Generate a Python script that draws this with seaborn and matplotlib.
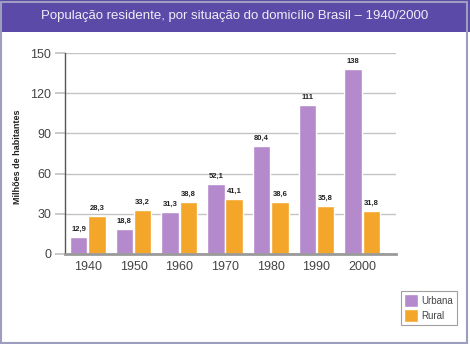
import matplotlib
matplotlib.use("Agg")
import matplotlib.pyplot as plt
import seaborn as sns
import pandas as pd
from matplotlib.patches import Rectangle

anos = ["1940", "1950", "1960", "1970", "1980", "1990", "2000"]
urbana = [12.9, 18.8, 31.3, 52.1, 80.4, 111, 138]
rural = [28.3, 33.2, 38.8, 41.1, 38.6, 35.8, 31.8]
rotulos_urbana = ["12,9", "18,8", "31,3", "52,1", "80,4", "111", "138"]
rotulos_rural = ["28,3", "33,2", "38,8", "41,1", "38,6", "35,8", "31,8"]
series = ["Urbana", "Rural"]
yticks = [0, 30, 60, 90, 120, 150]
titulo = "População residente, por situação do domicílio Brasil – 1940/2000"
ylabel = "Milhões de habitantes"

df = pd.DataFrame({
    "Ano": anos * 2,
    "Valor": urbana + rural,
    "Situação": [series[0]] * len(anos) + [series[1]] * len(anos),
})

sns.set_theme(style="white")
plt.rcParams["font.family"] = ["Liberation Sans", "DejaVu Sans"]

fig = plt.figure(figsize=(4.7, 3.44), dpi=100)
ax = fig.add_axes([65 / 470, 1 - 254 / 344, (396 - 65) / 470, (254 - 53) / 344])

cores = {"Urbana": "#b48acd", "Rural": "#f4a62a"}
sns.barplot(data=df, x="Ano", y="Valor", hue="Situação", palette=cores,
            width=0.8, gap=0.05, ax=ax, legend=True, saturation=1)

ax.set_ylim(0, 150)
ax.set_xlim(-0.5, 6.74)
ax.set_yticks(yticks)
ax.grid(axis="y", color="#c4c4c4", linewidth=1)
ax.set_axisbelow(True)
ax.tick_params(axis="y", length=7, color="#c4c4c4", labelsize=9, labelcolor="#444444", pad=3, direction="out", left=True)
ax.tick_params(axis="x", length=0, labelsize=9, labelcolor="#444444", pad=5)
for sp in ["top", "right"]:
    ax.spines[sp].set_visible(False)
ax.spines["left"].set_color("#555555")
ax.spines["left"].set_linewidth(1)
ax.spines["bottom"].set_color("#9a9a9a")
ax.spines["bottom"].set_linewidth(2)
ax.set_xlabel("")
ax.set_ylabel("")
fig.text(18 / 470, 1 - 157 / 344, ylabel, rotation=90, ha="center", va="center",
         fontsize=6.5, fontweight="bold", color="#222222")

for cont, rot in zip(ax.containers, [rotulos_urbana, rotulos_rural]):
    ax.bar_label(cont, labels=rot, fontsize=5.5, fontweight="bold", color="#222222", padding=3)

handles, labels = ax.get_legend_handles_labels()
ax.get_legend().remove()
leg = fig.legend(handles, labels, loc="upper left", bbox_to_anchor=(401 / 470, 1 - 291 / 344),
                 frameon=True, fontsize=7, handlelength=1.4, handleheight=1.6,
                 borderpad=0.35, labelspacing=0.25, handletextpad=0.35, fancybox=False,
                 borderaxespad=0)
leg.get_frame().set_edgecolor("#888888")
leg.get_frame().set_linewidth(0.8)
for t in leg.get_texts():
    t.set_color("#444444")

# title banner
fig.patches.append(Rectangle((0, 1 - 32 / 344), 1, 32 / 344, transform=fig.transFigure,
                             facecolor="#5b4aa7", edgecolor="none", zorder=0))
fig.text(0.5, 1 - 16 / 344, titulo, ha="center", va="center", color="#f0eef8", fontsize=9.5)
# border
fig.patches.append(Rectangle((1 / 470, 1 / 344), 466 / 470, 341 / 344, transform=fig.transFigure,
                             facecolor="none", edgecolor="#9c9dbf", linewidth=1.5, zorder=1))

fig.savefig("out.png", dpi=100)
